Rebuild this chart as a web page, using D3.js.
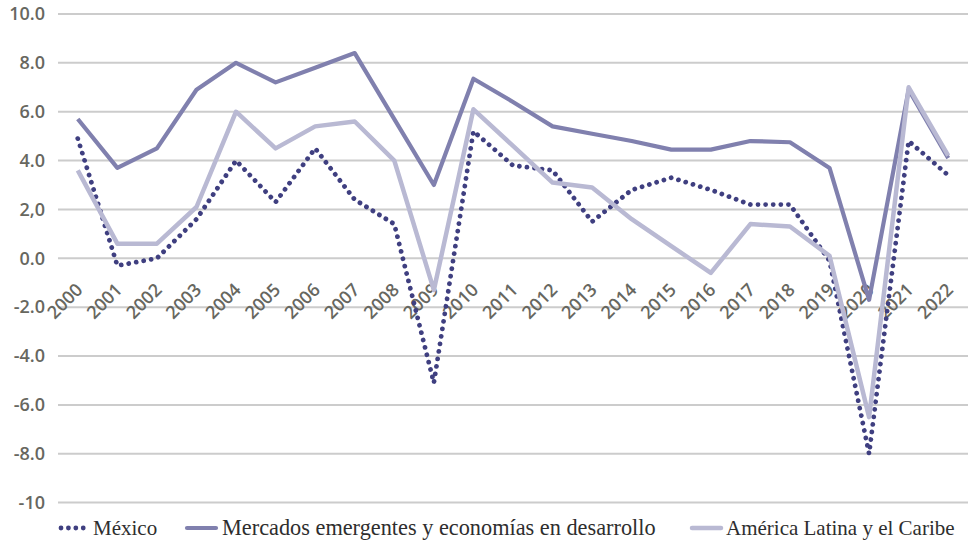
<!DOCTYPE html>
<html>
<head>
<meta charset="utf-8">
<script src="https://cdn.jsdelivr.net/npm/d3@7"></script>
<style>
  body { margin: 0; background: #fff; }
  svg { display: block; }
</style>
</head>
<body>
<svg id="chart"></svg>
<script>
// canvas
var width = 968,
    height = 540;

// data
var years = ["2000","2001","2002","2003","2004","2005","2006","2007","2008","2009","2010",
             "2011","2012","2013","2014","2015","2016","2017","2018","2019","2020","2021","2022"];
var mexico = [4.9, -0.3, 0.0, 1.6, 4.0, 2.3, 4.5, 2.4, 1.4, -5.1, 5.2,
              3.8, 3.6, 1.5, 2.8, 3.3, 2.8, 2.2, 2.2, -0.1, -8.0, 4.8, 3.4];
var emergentes = [5.7, 3.7, 4.5, 6.9, 8.0, 7.2, 7.8, 8.4, 5.7, 3.0, 7.35,
                  6.4, 5.4, 5.1, 4.8, 4.45, 4.45, 4.8, 4.75, 3.7, -1.7, 6.9, 4.1];
var latam = [3.6, 0.6, 0.6, 2.1, 6.0, 4.5, 5.4, 5.6, 4.0, -1.3, 6.1,
             4.6, 3.1, 2.9, 1.6, 0.5, -0.6, 1.4, 1.3, 0.1, -6.5, 7.0, 4.2];
var yTicks = [10, 8, 6, 4, 2, 0, -2, -4, -6, -8, -10];
var yTickLabels = ["10.0", "8.0", "6.0", "4.0", "2,0", "0.0", "-2.0", "-4.0", "-6.0", "-8.0", "-10"];
var seriesNames = ["México", "Mercados emergentes y economías en desarrollo", "América Latina y el Caribe"];

var svg = d3.select("#chart")
    .attr("width", width)
    .attr("height", height);

var x = d3.scaleBand()
    .domain(years)
    .range([58, 968]);

var y = d3.scaleLinear()
    .domain([-10, 10])
    .range([502.6, 14]);

function cx(d) { return x(d) + x.bandwidth() / 2; }

// gridlines
svg.append("g")
  .selectAll("line")
  .data(yTicks)
  .enter().append("line")
    .attr("x1", 58)
    .attr("x2", 968)
    .attr("y1", function(d) { return y(d); })
    .attr("y2", function(d) { return y(d); })
    .style("stroke", "#cccccc")
    .style("stroke-width", "2px");

// y labels
svg.append("g")
  .selectAll("text")
  .data(yTicks)
  .enter().append("text")
    .attr("x", 45)
    .attr("y", function(d) { return y(d); })
    .attr("dy", "0.35em")
    .style("text-anchor", "end")
    .style("font-family", "'Open Sans', sans-serif")
    .style("font-weight", 600)
    .style("font-size", "18px")
    .style("fill", "#67675f")
    .text(function(d, i) { return yTickLabels[i]; });

// x labels, rotated
svg.append("g")
  .selectAll("text")
  .data(years)
  .enter().append("text")
    .attr("transform", function(d) {
      return "translate(" + (cx(d) + 6) + ",291) rotate(-45)";
    })
    .style("text-anchor", "end")
    .style("font-family", "'Open Sans', sans-serif")
    .style("font-weight", 600)
    .style("font-size", "18px")
    .style("fill", "#67675f")
    .text(function(d) { return d; });

var line = d3.line()
    .x(function(d, i) { return cx(years[i]); })
    .y(function(d) { return y(d); });

var series = [
  { values: mexico, color: "#3f3f80", dash: "0.01 7.6", width: 4.8 },
  { values: emergentes, color: "#8080ae", dash: null, width: 4.2 },
  { values: latam, color: "#b9b9d3", dash: null, width: 4.5 }
];

series.forEach(function(s) {
  svg.append("path")
    .datum(s.values)
    .attr("d", line)
    .style("fill", "none")
    .style("stroke", s.color)
    .style("stroke-width", s.width + "px")
    .style("stroke-linejoin", "round")
    .style("stroke-linecap", s.dash ? "round" : "butt")
    .style("stroke-dasharray", s.dash);
});

// legend
var legendX = [60, 187, 692];
var legendTextX = [33, 35, 34];
var legendFont = [21, 22.3, 21];
var legend = svg.append("g")
  .selectAll("g")
  .data(series)
  .enter().append("g")
    .attr("transform", function(d, i) { return "translate(" + legendX[i] + ",528)"; });

legend.append("line")
    .attr("x1", function(d) { return d.dash ? 1 : 0; })
    .attr("x2", function(d) { return d.dash ? 28 : 29; })
    .style("stroke", function(d) { return d.color; })
    .style("stroke-width", function(d) { return d.width + "px"; })
    .style("stroke-linecap", "round")
    .style("stroke-dasharray", function(d) { return d.dash ? "0.01 7.4" : null; });

legend.append("text")
    .attr("x", function(d, i) { return legendTextX[i]; })
    .attr("y", 7)
    .style("font-family", "'Liberation Serif', serif")
    .style("font-size", function(d, i) { return legendFont[i] + "px"; })
    .style("fill", "#2e2e2e")
    .text(function(d, i) { return seriesNames[i]; });
</script>
</body>
</html>
